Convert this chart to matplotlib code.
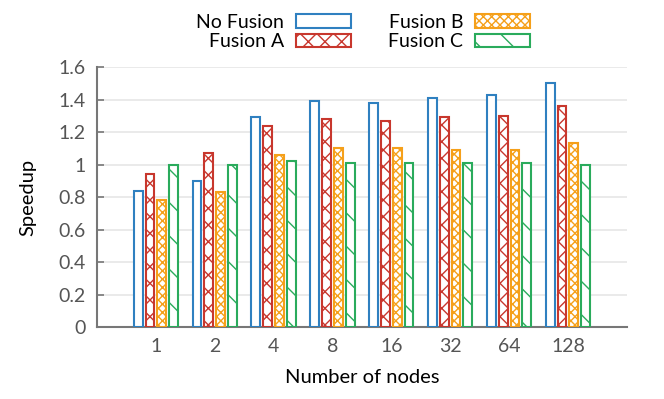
import matplotlib.pyplot as plt
import numpy as np

nodes = ['1', '2', '4', '8', '16', '32', '64', '128']
no_fusion = [0.84, 0.90, 1.29, 1.39, 1.38, 1.41, 1.43, 1.50]
fusion_a = [0.94, 1.07, 1.24, 1.28, 1.27, 1.29, 1.30, 1.36]
fusion_b = [0.78, 0.83, 1.06, 1.10, 1.10, 1.09, 1.09, 1.13]
fusion_c = [1.00, 1.00, 1.02, 1.01, 1.01, 1.01, 1.01, 1.00]

BLUE = '#2f80c0'
RED = '#c8372d'
ORANGE = '#f5a01a'
GREEN = '#2aab5c'

plt.rcParams['font.family'] = ['Lato', 'DejaVu Sans']
plt.rcParams['hatch.linewidth'] = 1.0

x = np.arange(len(nodes))
pitch = 0.2
width = 0.15

fig = plt.figure(figsize=(6.64, 3.99), dpi=100)
ax = fig.add_axes([0.146, 0.180, 0.798, 0.652])

series = [
    ('No Fusion', no_fusion, BLUE, ''),
    ('Fusion A', fusion_a, RED, 'xx'),
    ('Fusion B', fusion_b, ORANGE, 'xxxx'),
    ('Fusion C', fusion_c, GREEN, '\\'),
]
handles = []
for i, (lab, vals, col, hatch) in enumerate(series):
    b = ax.bar(x + (i - 1.5) * pitch, vals, width, facecolor='white',
               edgecolor=col, hatch=hatch, linewidth=1.5, label=lab, zorder=3)
    handles.append(b)

ax.set_xlim(-1, 8)
ax.set_ylim(0, 1.6)
ax.set_yticks(np.arange(0, 1.61, 0.2))
ax.set_yticklabels(['0', '0.2', '0.4', '0.6', '0.8', '1', '1.2', '1.4', '1.6'])
ax.set_xticks(x)
ax.set_xticklabels(nodes)
ax.tick_params(axis='both', colors='#555555', labelsize=14, length=0, pad=8)
ax.tick_params(axis='y', length=5, direction='in', color='#777777', width=1.2, pad=8)
ax.grid(axis='y', color='#e6e6e6', linewidth=1.2, zorder=0)
for s in ['top', 'right']:
    ax.spines[s].set_visible(False)
for s in ['left', 'bottom']:
    ax.spines[s].set_color('#777777')
    ax.spines[s].set_linewidth(1.5)

ax.set_xlabel('Number of nodes', fontsize=14.5, color='black', labelpad=10)
ax.set_ylabel('Speedup', fontsize=14.5, color='black', labelpad=16)

leg = fig.legend(handles, [h.get_label() for h in handles], ncol=2,
                 loc='upper center', bbox_to_anchor=(0.547, 1.01),
                 frameon=False, markerfirst=False, fontsize=14,
                 handlelength=2.85, handleheight=0.7, columnspacing=1.9,
                 labelspacing=0.15, handletextpad=0.6)

fig.savefig('out.png', dpi=100)
